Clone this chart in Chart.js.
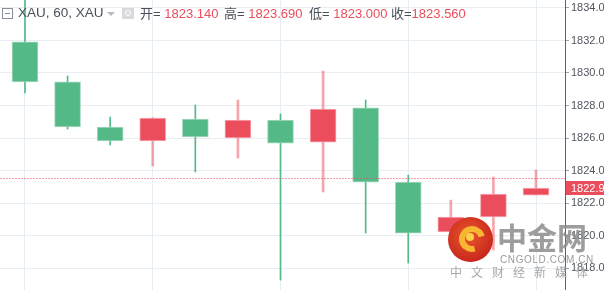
<!DOCTYPE html>
<html>
<head>
<meta charset="utf-8">
<script src="https://cdn.jsdelivr.net/npm/chart.js@4.4.1/dist/chart.umd.min.js"></script>
<style>
  html, body { margin: 0; padding: 0; background: #fff; }
  #wrap { position: relative; width: 604px; height: 290px; overflow: hidden; font-family: "Liberation Sans", Arial, "Noto Sans CJK SC", sans-serif; }
  #c { position: absolute; left: 0; top: 0; }
  .hd { position: absolute; top: 6px; font-size: 13px; line-height: 16px; white-space: nowrap; color: #4a4f59; }
  .hd .v { color: #eb4d5c; }
  .box { position: absolute; left: 2px; top: 8px; width: 9px; height: 9px; border: 1px solid #8a8f99; background: #fff; }
  .box:after { content: ''; position: absolute; left: 2px; right: 2px; top: 4px; height: 1px; background: #8a8f99; }
  .caret { position: absolute; left: 107px; top: 12px; width: 0; height: 0; border-left: 4px solid transparent; border-right: 4px solid transparent; border-top: 4px solid #b5b9c0; }
  .eye { position: absolute; left: 122px; top: 8px; width: 12px; height: 11px; background: #d7d9dc; }
  .eye:after { content: ''; position: absolute; left: 3px; top: 2px; width: 4px; height: 4px; border: 1px solid #fff; border-radius: 50%; }
  .wm { position: absolute; white-space: nowrap; pointer-events: none; }
  .logo { position: absolute; left: 448px; top: 217px; width: 45px; height: 45px; border-radius: 50%; background: radial-gradient(circle at 45% 40%, #e9572b, #c7261d 75%); }
  .logo .sw { position: absolute; left: 11px; top: 9px; width: 14px; height: 14px; border-radius: 50%; border: 6px solid #f7b733; border-right-color: transparent; transform: rotate(30deg); }
  .logo .dot { position: absolute; left: 18px; top: 16px; width: 8px; height: 8px; border-radius: 50%; background: #fbd04b; }
</style>
</head>
<body>
<div id="wrap">
  <canvas id="c" width="604" height="290"></canvas>
  <div class="box"></div>
  <div class="hd" style="left:18px; font-size:13.5px; top:5px;">XAU, 60, XAU</div>
  <div class="caret"></div>
  <div class="eye"></div>
  <div class="hd" style="left:140px;">开= <span class="v">1823.140</span></div>
  <div class="hd" style="left:224px;">高= <span class="v">1823.690</span></div>
  <div class="hd" style="left:309px;">低= <span class="v">1823.000</span></div>
  <div class="hd" style="left:391px;">收=<span class="v">1823.560</span></div>
  <div class="logo"><div class="sw"></div><div class="dot"></div></div>
  <div class="wm" style="left:497px; top:218px; font-family:'Noto Sans CJK SC',sans-serif; font-weight:bold; font-size:30px; line-height:36px; color:rgba(140,140,140,0.85);">中金网</div>
  <div class="wm" style="left:500px; top:254px; font-size:10px; line-height:12px; color:#9a9a9a; letter-spacing:0.6px;">CNGOLD.COM.CN</div>
  <div class="wm" style="left:450px; top:264px; font-family:'Noto Sans CJK SC',sans-serif; font-size:12px; line-height:16px; color:#a8a8a8; letter-spacing:9px;">中文财经新媒体</div>
</div>
<script>
const candles = [0, 1, 2, 3, 4, 5, 6, 7, 8, 9, 10, 11, 12];
const opens  = [1831.91, 1829.45, 1826.68, 1825.82, 1827.17, 1826.00, 1827.11, 1825.75, 1827.85, 1823.29, 1820.22, 1821.14, 1822.49];
const closes = [1829.45, 1826.68, 1825.82, 1827.23, 1826.06, 1827.11, 1825.69, 1827.78, 1823.29, 1820.15, 1821.14, 1822.55, 1822.92];
const highs  = [1834.60, 1829.82, 1827.29, 1827.25, 1828.03, 1828.34, 1827.48, 1830.12, 1828.34, 1823.72, 1822.18, 1823.60, 1824.03];
const lows   = [1828.77, 1826.55, 1825.57, 1824.28, 1823.91, 1824.77, 1817.26, 1822.68, 1820.15, 1818.31, 1819.90, 1819.11, 1822.49];
const yTicks = [1818, 1820, 1822, 1824, 1826, 1828, 1830, 1832, 1834];
const xGridAt = [0, 3, 6, 9, 12];
const lastQuote = 1823.56;

const UP = '#eb4d5c', DOWN = '#53b987';
const isUp = candles.map(i => closes[i] >= opens[i]);

const bodies = candles.map(i => ({ x: i, y: [Math.min(opens[i], closes[i]), Math.max(opens[i], closes[i])] }));
const wicksUp = candles.filter(i => isUp[i]).map(i => ({ x: i, y: [lows[i], highs[i]] }));
const wicksDown = candles.filter(i => !isUp[i]).map(i => ({ x: i, y: [lows[i], highs[i]] }));

const overlay = {
  id: 'overlay',
  afterDatasetsDraw(chart) {
    const { ctx, chartArea, scales } = chart;
    // dotted quote line
    const qy = Math.round(scales.y.getPixelForValue(lastQuote)) + 0.5;
    ctx.save();
    ctx.strokeStyle = 'rgba(235,77,92,0.55)';
    ctx.lineWidth = 1;
    ctx.setLineDash([2, 1]);
    ctx.beginPath();
    ctx.moveTo(chartArea.left, qy);
    ctx.lineTo(chartArea.right, qy);
    ctx.stroke();
    ctx.restore();
  },
  afterDraw(chart) {
    const { ctx, chartArea, scales } = chart;
    const last = closes[closes.length - 1];
    const py = Math.round(scales.y.getPixelForValue(last));
    ctx.save();
    ctx.fillStyle = UP;
    ctx.fillRect(chartArea.right + 1, py - 7, 40, 14);
    ctx.fillStyle = '#fff';
    ctx.font = '11px "Liberation Sans", Arial, sans-serif';
    ctx.textBaseline = 'middle';
    ctx.fillText(last.toFixed(2), chartArea.right + 6, py + 0.5);
    ctx.restore();
  }
};

new Chart(document.getElementById('c'), {
  type: 'bar',
  data: {
    datasets: [
      { data: bodies, backgroundColor: candles.map(i => isUp[i] ? UP : DOWN),
        borderColor: candles.map(i => isUp[i] ? 'rgba(245,160,168,0.9)' : 'rgba(160,215,185,0.9)'),
        borderWidth: 1, borderSkipped: false, barThickness: 26 },
      { data: wicksUp, backgroundColor: 'rgba(235,77,92,0.5)', barThickness: 2 },
      { data: wicksDown, backgroundColor: DOWN, barThickness: 1 }
    ]
  },
  options: {
    responsive: false,
    animation: false,
    grouped: false,
    events: [],
    layout: { padding: 0 },
    plugins: { legend: { display: false }, tooltip: { enabled: false } },
    scales: {
      x: {
        type: 'linear', min: -0.587, max: 12.681, offset: false,
        afterBuildTicks: s => { s.ticks = xGridAt.map(v => ({ value: v })); },
        afterFit: s => { s.height = 0; s.paddingLeft = 0; s.paddingRight = 0; },
        ticks: { display: false },
        grid: { color: '#e6eef3', drawTicks: false, offset: false },
        border: { display: false }
      },
      y: {
        position: 'right', min: 1816.65, max: 1834.49,
        afterBuildTicks: s => { s.ticks = yTicks.map(v => ({ value: v })); },
        afterFit: s => { s.width = 39; s.paddingTop = 0; s.paddingBottom = 0; },
        ticks: { color: '#50555e', padding: 2, font: { family: '"Liberation Sans", Arial, sans-serif', size: 11 },
          callback: v => v.toFixed(2) },
        grid: { color: '#e6eef3', tickColor: '#9aa0a8', tickLength: 4 },
        border: { display: true, color: '#5d6168', width: 1 }
      }
    }
  },
  plugins: [overlay]
});
</script>
</body>
</html>
